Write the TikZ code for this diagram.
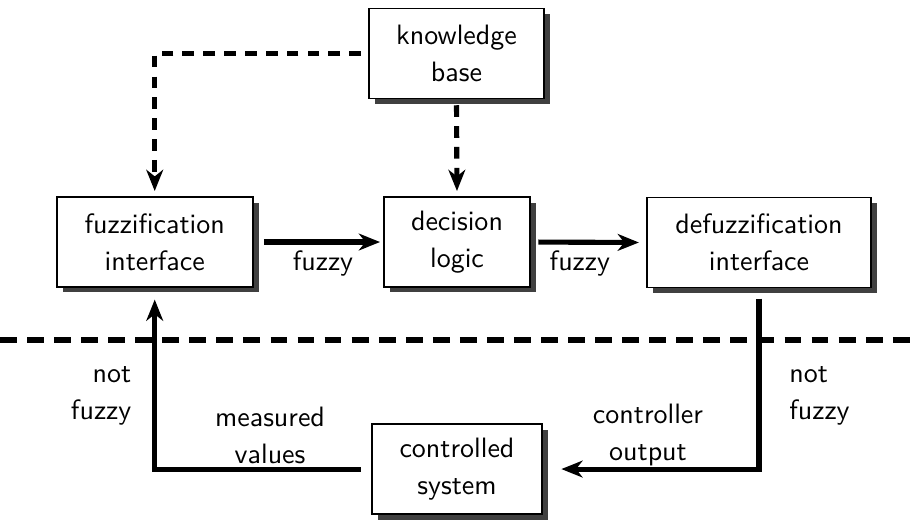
\documentclass[tikz,border=0pt]{standalone}
\usepackage{tikz}
\usetikzlibrary{arrows.meta,shadows}

\tikzset{
	block/.style={draw, line width=0.25mm, fill=white, align=center, minimum height=1.23cm,
		drop shadow={shadow xshift=0.08cm, shadow yshift=-0.075cm, fill=black!75, opacity=1}},
	flow/.style={line width=0.7mm, -{Stealth[length=2.9mm, width=2.3mm, inset=0.9mm]}},
	knows/.style={flow, dash pattern=on 1.6mm off 1.25mm},
	lbl/.style={align=center}
}

\begin{document}
\begin{tikzpicture}[font=\sffamily\fontsize{10.9}{14.3}\selectfont]
			%%%%% START %%%%%
			
			\useasboundingbox (0, 0) rectangle (12.5, 7.112);
			
			\node[block, minimum width=2.39cm] (base) at (6.243, 6.380) {knowledge\\base};
			\node[block, minimum width=2.68cm] (fuzzif) at (2.116, 3.802) {fuzzification\\interface};
			\node[block, minimum width=2.0cm] (logic) at (6.250, 3.802) {decision\\logic};
			\node[block, minimum width=3.06cm] (defuzzif) at (10.380, 3.795) {defuzzification\\interface};
			\node[block, minimum width=2.33cm] (plant) at (6.250, 0.697) {controlled\\system};
			
			\coordinate (sepL) at (0, 2.462);
			\coordinate (sepR) at (12.5, 2.462);
			\draw[line width=0.7mm, dash pattern=on 2.3mm off 1.4mm] (sepL) -- (sepR);
			
			\draw[knows, shorten <=1mm, shorten >=0.7mm] (base.west) -| (fuzzif.north);
			\draw[knows, shorten <=0.8mm, shorten >=0.7mm] (base.south) -- (logic.north);
			
			\draw[flow, shorten <=1.4mm, shorten >=0.4mm] (fuzzif.east) -- (logic.west);
			\draw[flow, shorten <=1mm, shorten >=1mm] (logic.east) -- (defuzzif.west);
			\draw[flow, shorten <=1.4mm, shorten >=2.5mm] (defuzzif.south) |- (plant.east);
			\draw[flow, shorten <=1.4mm, shorten >=1.6mm] (plant.west) -| (fuzzif.south);
			
			\node[lbl] (fz1) at (4.417, 3.515) {fuzzy};
			\node[lbl] (fz2) at (7.930, 3.515) {fuzzy};
			\node[lbl, align=right, anchor=east] (nfL) at (1.92, 1.696) {not\\fuzzy};
			\node[lbl, align=left, anchor=west] (nfR) at (10.67, 1.696) {not\\fuzzy};
			\node[lbl] (meas) at (3.693, 1.162) {measured\\values};
			\node[lbl] (ctrl) at (8.862, 1.162) {controller\\output};
			
			%%%%% END %%%%%
		\end{tikzpicture}
\end{document}
